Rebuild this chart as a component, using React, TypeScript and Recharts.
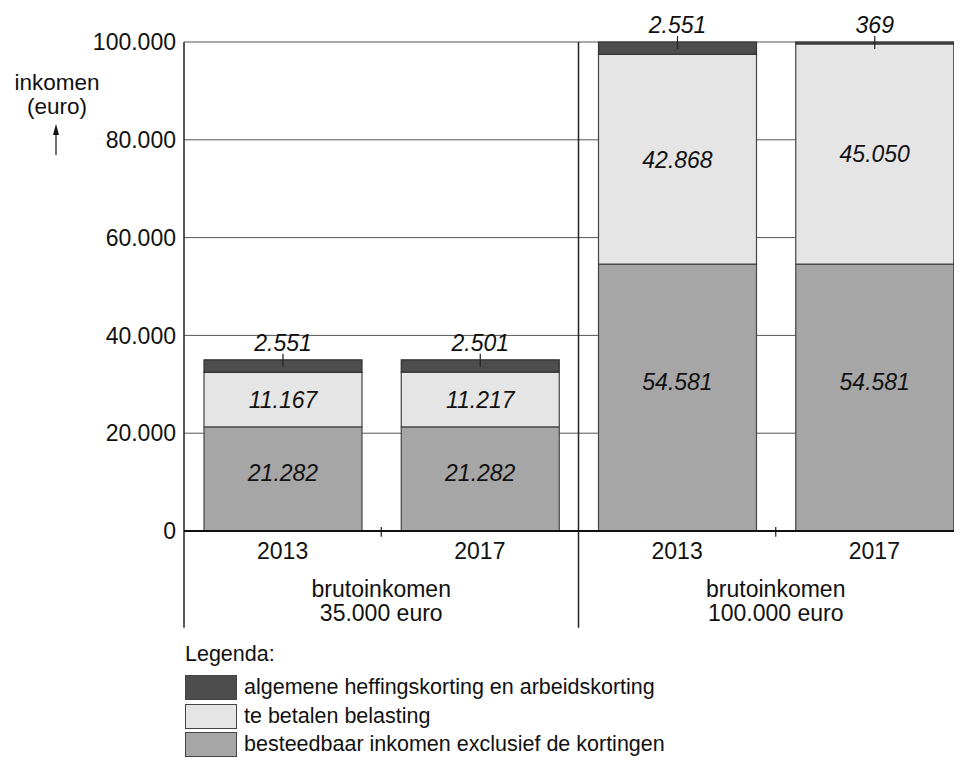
import React from 'react';
import {
  BarChart,
  Bar,
  XAxis,
  YAxis,
  CartesianGrid,
  ReferenceLine,
  LabelList,
  Legend,
} from 'recharts';

// values (euro)
const years = ['2013', '2017', '2013', '2017'];
const groupLines = [
  ['brutoinkomen', '35.000 euro'],
  ['brutoinkomen', '100.000 euro'],
];
const besteedbaar = [21282, 21282, 54581, 54581];
const belasting = [11167, 11217, 42868, 45050];
const kortingen = [2551, 2501, 2551, 369];
const seriesNames = [
  'besteedbaar inkomen exclusief de kortingen',
  'te betalen belasting',
  'algemene heffingskorting en arbeidskorting',
];
const yTicks = [0, 20000, 40000, 60000, 80000, 100000];

const data = years.map((year, i) => ({
  pos: i + 0.5,
  year,
  besteedbaar: besteedbaar[i],
  belasting: belasting[i],
  kortingen: kortingen[i],
}));

const fmt = (v: number) => String(v).replace(/\B(?=(\d{3})+(?!\d))/g, '.');

const FONT = 23;
const LEGEND_FONT = 21.5;

function box(props: any) {
  const vb = props.viewBox || {};
  return {
    x: props.x ?? vb.x,
    y: props.y ?? vb.y,
    width: props.width ?? vb.width,
    height: props.height ?? vb.height,
  };
}

function TopLabel(props: any) {
  const { x, y, width } = box(props);
  const cx = x + width / 2;
  return (
    <g>
      <line x1={cx} x2={cx} y1={y - 6} y2={y + 7} stroke="#222" strokeWidth={1.2} />
      <text x={cx} y={y - 9} textAnchor="middle" fontSize={FONT} fontStyle="italic" fill="#111">
        {fmt(props.value)}
      </text>
    </g>
  );
}

function InLabel(props: any) {
  const { x, y, width, height } = box(props);
  const frac = props.frac ?? 0.5;
  return (
    <text
      x={x + width / 2}
      y={y + height * frac}
      dy="0.36em"
      textAnchor="middle"
      fontSize={FONT}
      fontStyle="italic"
      fill="#111"
    >
      {fmt(props.value)}
    </text>
  );
}

function GroupTick(props: any) {
  const { x, y, payload } = props;
  const lines = groupLines[Math.floor(payload.value / 2)] || [];
  return (
    <text x={x} y={y} textAnchor="middle" fontSize={FONT} fill="#111">
      <tspan x={x} dy={20}>{lines[0]}</tspan>
      <tspan x={x} dy={24}>{lines[1]}</tspan>
    </text>
  );
}

function AxisTitle(props: any) {
  const vb = props.viewBox || { x: 0, y: 34 };
  const cx = vb.x + 49;
  const top = vb.y;
  return (
    <g fill="#111" fontSize={22.5}>
      <text x={cx} y={top + 48} textAnchor="middle">inkomen</text>
      <text x={cx} y={top + 72} textAnchor="middle">(euro)</text>
      <line x1={cx - 1} x2={cx - 1} y1={top + 87} y2={top + 113} stroke="#111" strokeWidth={1.2} />
      <path d={`M ${cx - 4} ${top + 93} L ${cx - 1} ${top + 82} L ${cx + 2} ${top + 93} Z`} fill="#111" />
    </g>
  );
}

function LegendBox(props: any) {
  const items = [...(props.payload || [])].sort(
    (a: any, b: any) => seriesNames.indexOf(b.value) - seriesNames.indexOf(a.value)
  );
  return (
    <div style={{ fontSize: LEGEND_FONT, color: '#111', lineHeight: 1 }}>
      <div style={{ marginBottom: 8 }}>Legenda:</div>
      {items.map((it: any) => (
        <div key={it.value} style={{ display: 'flex', alignItems: 'center', height: 28.5 }}>
          <span
            style={{
              display: 'inline-block',
              width: 50,
              height: 23,
              background: it.color,
              border: '1px solid #444',
              marginRight: 7,
            }}
          />
          <span>{it.value}</span>
        </div>
      ))}
    </div>
  );
}

export default function App() {
  return (
    <div
      style={{
        width: 954,
        height: 762,
        overflow: 'hidden',
        fontFamily: '"Liberation Sans", Arial, sans-serif',
      }}
    >
      <BarChart
        width={965}
        height={762}
        data={data}
        margin={{ top: 34, right: 0, left: 0, bottom: 129 }}
      >
        <CartesianGrid vertical={false} stroke="#555" strokeWidth={1} />
        <XAxis
          type="number"
          dataKey="pos"
          domain={[0, 4]}
          ticks={data.map((d) => d.pos)}
          tickFormatter={(v) => years[Math.floor(v)]}
          height={40}
          tickLine={false}
          tickMargin={6}
          axisLine={{ stroke: '#111', strokeWidth: 2 }}
          tick={{ fontSize: FONT, fill: '#111' }}
          interval={0}
        />
        <XAxis
          xAxisId="grp"
          type="number"
          dataKey="pos"
          domain={[0, 4]}
          ticks={[1, 3]}
          height={70}
          tickLine={false}
          axisLine={false}
          tickMargin={0}
          tick={<GroupTick />}
          interval={0}
        />
        <YAxis
          width={176}
          domain={[0, 100000]}
          ticks={yTicks}
          tickFormatter={fmt}
          axisLine={false}
          tickLine={false}
          tick={{ fontSize: FONT, fill: '#111' }}
          label={<AxisTitle />}
        />
        <Bar
          dataKey="besteedbaar"
          name={seriesNames[0]}
          stackId="a"
          barSize={158}
          fill="#a6a6a6"
          stroke="#444"
          strokeWidth={1.2}
          isAnimationActive={false}
        >
          <LabelList dataKey="besteedbaar" content={<InLabel frac={0.44} />} />
        </Bar>
        <Bar
          dataKey="belasting"
          name={seriesNames[1]}
          stackId="a"
          barSize={158}
          fill="#e5e5e5"
          stroke="#444"
          strokeWidth={1.2}
          isAnimationActive={false}
        >
          <LabelList dataKey="belasting" content={<InLabel frac={0.5} />} />
        </Bar>
        <Bar
          dataKey="kortingen"
          name={seriesNames[2]}
          stackId="a"
          barSize={158}
          fill="#4d4d4d"
          stroke="#333"
          strokeWidth={1.2}
          isAnimationActive={false}
        >
          <LabelList dataKey="kortingen" content={<TopLabel />} />
        </Bar>
        <ReferenceLine
          segment={[{ x: 0, y: 100000 }, { x: 0, y: -19800 }]}
          stroke="#222"
          strokeWidth={1.5}
          ifOverflow="visible"
        />
        <ReferenceLine
          segment={[{ x: 2, y: 100000 }, { x: 2, y: -19800 }]}
          stroke="#222"
          strokeWidth={1.5}
          ifOverflow="visible"
        />
        <ReferenceLine
          segment={[{ x: 1, y: 800 }, { x: 1, y: -1200 }]}
          stroke="#222"
          strokeWidth={1.2}
          ifOverflow="visible"
        />
        <ReferenceLine
          segment={[{ x: 3, y: 800 }, { x: 3, y: -1200 }]}
          stroke="#222"
          strokeWidth={1.2}
          ifOverflow="visible"
        />
        <Legend
          layout="vertical"
          align="center"
          verticalAlign="middle"
          wrapperStyle={{ left: 177, top: 636, width: 700 }}
          content={<LegendBox />}
        />
      </BarChart>
    </div>
  );
}
